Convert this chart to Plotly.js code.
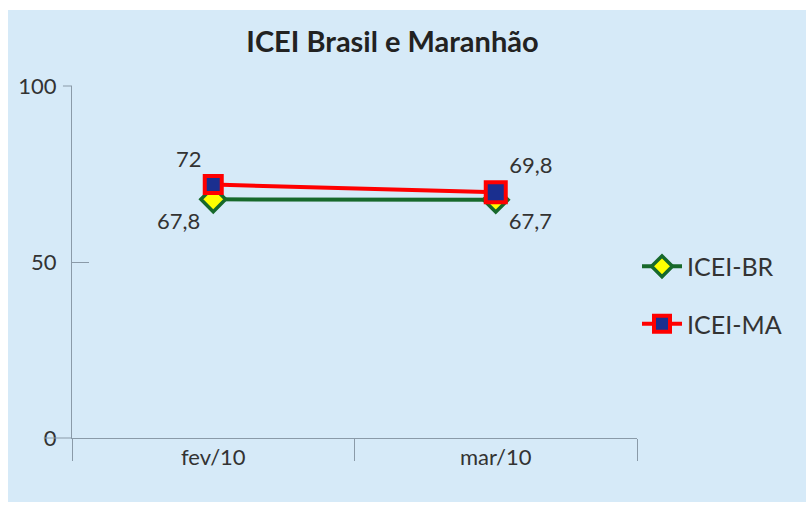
<!DOCTYPE html>
<html>
<head>
<meta charset="utf-8">
<script src="https://cdn.plot.ly/plotly-3.0.1.min.js"></script>
<style>
html,body{margin:0;padding:0;background:#fff;}
#wrap{position:absolute;left:8px;top:10px;width:798px;height:492px;background:#d6eaf8;}
#chart{position:absolute;left:0;top:0;width:806px;height:507px;}
</style>
</head>
<body>
<div id="wrap"></div>
<div id="chart"></div>
<script>
const categories = ["fev/10", "mar/10"];
const icei_br = [67.8, 67.7];
const icei_ma = [72, 69.8];
const yTicks = [0, 50, 100];

const fmt = v => String(v).replace('.', ',');
const FONT = "Lato, 'Open Sans', sans-serif";

const traces = [
  {
    x: categories, y: icei_br, name: "ICEI-BR", type: "scatter", mode: "lines+markers+text",
    legendgroup: "br",
    line: {color: "#17692b", width: 4},
    marker: {symbol: "diamond", size: 19, color: "#ffff00", opacity: 1, line: {color: "#17692b", width: 3.5}},
    text: icei_br.map(fmt), textposition: ["bottom left", "bottom right"],
    textfont: {family: FONT, size: 22, color: "#333"},
    cliponaxis: false
  },
  {
    x: categories, y: icei_ma, name: "ICEI-MA", type: "scatter", mode: "lines+markers+text",
    legendgroup: "ma",
    line: {color: "#ff0000", width: 4},
    marker: {symbol: "square", size: [17, 20], color: "#1a2f8f", opacity: 1, line: {color: "#ff0000", width: 4}},
    text: icei_ma.map(fmt), textposition: ["top left", "top right"],
    textfont: {family: FONT, size: 22, color: "#333"},
    cliponaxis: false
  }
];

const layout = {
  width: 806, height: 507,
  paper_bgcolor: "rgba(0,0,0,0)", plot_bgcolor: "rgba(0,0,0,0)",
  margin: {l: 72, r: 169, t: 86, b: 69},
  font: {family: FONT, color: "#333"},
  title: {text: "<b>ICEI Brasil e Maranhão</b>", x: 0.487, xanchor: "center", y: 0.917, yanchor: "middle",
          font: {size: 29, color: "#222", family: FONT}},
  xaxis: {
    type: "category", range: [-0.5, 1.5], showgrid: false, zeroline: false,
    showline: true, linecolor: "#8a9aa8", linewidth: 1,
    ticks: "outside", tickson: "boundaries", ticklen: 22, tickcolor: "#8a9aa8",
    tickfont: {size: 22, color: "#333"}, fixedrange: true
  },
  yaxis: {
    range: [0, 100], tickvals: yTicks, ticktext: yTicks.map(String), showgrid: false, zeroline: false,
    showline: true, linecolor: "#8a9aa8", linewidth: 1,
    ticks: "inside", ticklen: 17, tickcolor: "#8a9aa8", ticklabelstandoff: 10,
    tickfont: {size: 22, color: "#333"}, fixedrange: true
  },
  showlegend: true,
  legend: {x: 1.0, xanchor: "left", y: 0.406, yanchor: "middle", bgcolor: "rgba(0,0,0,0)",
           font: {size: 25, color: "#333"}, traceorder: "grouped", tracegroupgap: 22, itemwidth: 40},
  shapes: [
    {type: "line", xref: "paper", yref: "paper", x0: -0.05, x1: 0, y0: 0, y1: 0, line: {color: "#8a9aa8", width: 1}},
    {type: "line", xref: "paper", yref: "paper", x0: -0.016, x1: 0, y0: 1, y1: 1, line: {color: "#8a9aa8", width: 1}}
  ]
};

Plotly.newPlot("chart", traces, layout, {displayModeBar: false, staticPlot: true});
</script>
</body>
</html>
